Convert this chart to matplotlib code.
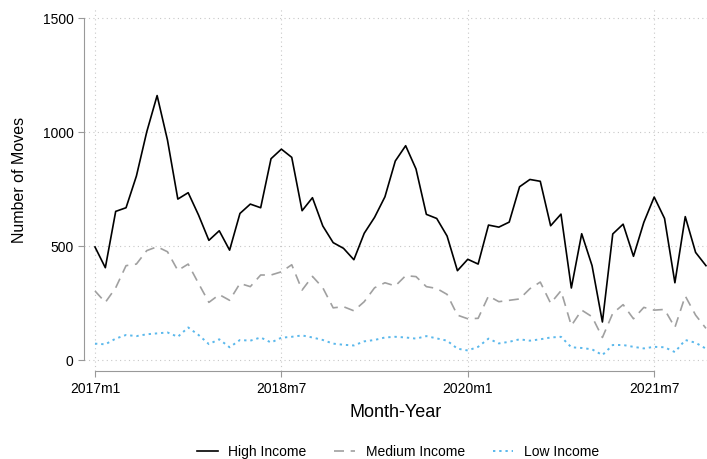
import matplotlib
matplotlib.use("Agg")
import matplotlib.pyplot as plt

plt.rcParams["font.family"] = ["Liberation Sans", "DejaVu Sans"]

# monthly counts, 2017m1 .. 2021m12
high_income = [496, 405, 652, 668, 807, 1001, 1160, 965, 706, 734,
               636, 525, 567, 482, 643, 684, 668, 883, 925, 889,
               655, 712, 588, 515, 490, 440, 556, 626, 716, 873,
               940, 838, 639, 621, 544, 392, 442, 421, 592, 583,
               605, 760, 792, 784, 589, 640, 316, 554, 414, 167,
               553, 596, 455, 604, 715, 621, 339, 629, 472, 414]
medium_income = [303, 253, 317, 414, 421, 480, 497, 475, 393, 421,
                 336, 253, 287, 262, 336, 322, 373, 373, 387, 418,
                 307, 367, 317, 229, 234, 216, 256, 317, 339, 325,
                 370, 366, 322, 314, 288, 197, 181, 183, 281, 256,
                 262, 268, 313, 342, 249, 304, 151, 219, 190, 99,
                 205, 243, 181, 231, 219, 222, 143, 281, 197, 139]
low_income = [72, 69, 94, 110, 105, 113, 117, 121, 102, 143,
              110, 70, 91, 56, 88, 85, 99, 77, 98, 102,
              108, 99, 88, 72, 67, 64, 82, 88, 99, 102,
              99, 94, 105, 95, 85, 50, 42, 58, 94, 73,
              80, 91, 85, 91, 99, 102, 56, 53, 47, 22,
              66, 66, 58, 51, 58, 56, 35, 88, 76, 50]

months = list(range(len(high_income)))
tick_pos = [0, 18, 36, 54]
tick_labels = ["2017m1", "2018m7", "2020m1", "2021m7"]
y_ticks = [0, 500, 1000, 1500]

fig = plt.figure(figsize=(7.07, 4.59), dpi=100)
ax = fig.add_axes([84 / 707, (459 - 371) / 459, 623 / 707, 363 / 459])

ax.plot(months, high_income, color="black", lw=1.2, label="High Income")
ax.plot(months, medium_income, color="#a0a0a0", lw=1.2, ls=(0, (6, 4)),
        label="Medium Income")
ax.plot(months, low_income, color="#5ab8ec", lw=1.4, ls=(0, (1.2, 2)),
        label="Low Income")

ax.set_xlim(-1.06, 59.1)
ax.set_ylim(-48, 1544)

ax.set_xticks(tick_pos)
ax.set_xticklabels(tick_labels)
ax.set_yticks(y_ticks)
ax.set_yticklabels([str(v) for v in y_ticks])

ax.grid(True, ls=(0, (1, 3)), color="#c8c8c8", lw=0.8)

for side in ["top", "right"]:
    ax.spines[side].set_visible(False)
ax.spines["left"].set_color("#999999")
ax.spines["bottom"].set_color("#999999")
ax.spines["left"].set_bounds(0, 1500)
ax.spines["bottom"].set_bounds(0, 54)
ax.tick_params(axis="both", colors="#999999", length=4.5, width=0.8,
               labelcolor="black", labelsize=10)
ax.tick_params(axis="y", pad=3)
ax.tick_params(axis="x", pad=3.5)

ax.set_xlabel("Month-Year", fontsize=13, labelpad=6)
ax.set_ylabel("Number of Moves", fontsize=11.5)
ax.yaxis.set_label_coords(-0.0915, 0.526)

ax.legend(loc="center", bbox_to_anchor=(0.504, -0.223), ncol=3,
          frameon=False, fontsize=10, handlelength=1.5, handletextpad=0.75,
          columnspacing=2.0)

fig.savefig("out.png", dpi=100)
